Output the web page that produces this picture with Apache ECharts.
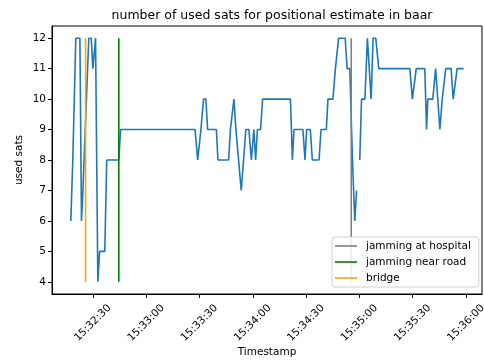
<!DOCTYPE html>
<html>
<head>
<meta charset="utf-8">
<script src="https://cdn.jsdelivr.net/npm/echarts@6/dist/echarts.min.js"></script>
<style>html,body{margin:0;padding:0;background:#fff;}#c{width:484px;height:360px;}</style>
</head>
<body>
<div id="c"></div>
<script>
// seconds since 15:32:00
const times = [17.6,18.7,20.4,22.7,23.6,24.4,24.9,27.7,29.1,30.0,30.8,31.5,32.8,33.8,36.7,37.8,44.6,45.6,
  87.5,89.0,89.8,90.8,91.4,92.3,93.6,94.6,99.5,100.4,106.4,107.4,108.1,109.4,110.5,111.3,113.5,114.0,116.1,117.8,
  119.2,120.6,121.6,122.6,124.4,125.5,141.2,142.3,143.2,148.2,149.4,150.3,152.4,153.5,157.3,158.4,161.4,162.3,
  165.1,166.5,167.4,168.3,172.0,173.1,174.6,176.1,177.4,178.4,179.3,180.2,181.2,183.1,184.5,185.6,186.6,187.7,
  189.2,190.9,208.4,209.8,210.6,212.0,216.8,217.8,218.5,221.3,222.9,223.5,225.3,226.6,227.5,228.6,231.6,232.8,
  233.9,235.0,238.7];
const sats = [6,8,12,12,6,7,7,12,12,11,11,12,4,5,5,8,8,9,
  9,8,8,9,9,10,10,9,9,8,8,9,9,10,9,9,7,7,9,9,
  8,9,8,9,9,10,10,8,9,9,8,9,9,8,8,9,9,10,
  10,11,11,12,12,11,11,8,6,7,null,8,10,10,12,12,10,12,
  12,11,11,10,10,11,11,9,10,10,11,11,9,10,10,11,11,10,
  10,11,11];
const eventNames = ['jamming at hospital','jamming near road','bridge'];
const eventTimes = [175.4, 44.6, 25.9];
const eventColors = ['#808080','#008000','#ffa500'];
const eventRange = [4, 12];
const xTicks = [30,60,90,120,150,180,210,240];
const yTicks = [4,5,6,7,8,9,10,11,12];

function fmt(s){
  const total = 15*3600 + 32*60 + Math.round(s);
  const h = Math.floor(total/3600), m = Math.floor((total%3600)/60), sec = total%60;
  const p = n => String(n).padStart(2,'0');
  return p(h)+':'+p(m)+':'+p(sec);
}

const font = 'DejaVu Sans';
const series = [{
  type:'line', name:'sats', data: times.map((t,i)=>[t, sats[i]===null?'-':sats[i]]),
  showSymbol:false, symbol:'none', lineStyle:{color:'#1f77b4', width:1.6}, itemStyle:{color:'#1f77b4'},
  connectNulls:false, animation:false
}];
eventNames.forEach((n,i)=>{
  series.push({type:'line', name:n, data: eventRange.map(v=>[eventTimes[i], v]),
    showSymbol:false, symbol:'none', lineStyle:{color:eventColors[i], width:1.6}, itemStyle:{color:eventColors[i]}, animation:false});
});

const chart = echarts.init(document.getElementById('c'));
chart.setOption({
  backgroundColor:'#fff',
  animation:false,
  title:{text:'number of used sats for positional estimate in baar', left:267, top:4, textAlign:'center',
    textStyle:{fontFamily:font, fontSize:12.5, fontWeight:'normal', color:'#000'}},
  grid:{left:52, right:2, top:26, bottom:66, show:true, borderColor:'#000', borderWidth:1, backgroundColor:'transparent',
    containLabel:false, outerBoundsMode:'none'},
  legend:{data:eventNames, orient:'vertical', left:332, top:237, padding:[3,8,3,3], itemGap:4,
    itemWidth:22, itemHeight:1.6, icon:'rect',
    backgroundColor:'rgba(255,255,255,0.85)', borderColor:'#d0d0d0', borderWidth:1, borderRadius:3,
    textStyle:{fontFamily:font, fontSize:10.5, color:'#000', lineHeight:12, padding:[0,0,0,4]}},
  xAxis:{type:'value', min:7, max:249, name:'Timestamp', nameLocation:'middle', nameGap:53, nameMoveOverlap:false,
    nameTextStyle:{fontFamily:font, fontSize:10.5, color:'#000'},
    splitLine:{show:false}, axisLine:{show:true, lineStyle:{color:'#000', width:1}},
    axisTick:{show:true, length:4, lineStyle:{color:'#000'}, customValues:xTicks},
    axisLabel:{customValues:xTicks, formatter:v=>fmt(v), rotate:45, align:'center', verticalAlign:'middle', margin:29,
      fontFamily:font, fontSize:10.5, color:'#000'}},
  yAxis:{type:'value', min:3.6, max:12.4, name:'used sats', nameLocation:'middle', nameGap:27, nameMoveOverlap:false,
    nameTextStyle:{fontFamily:font, fontSize:10.5, color:'#000'},
    splitLine:{show:false}, axisLine:{show:true, lineStyle:{color:'#000', width:1}},
    axisTick:{show:true, length:4, lineStyle:{color:'#000'}, customValues:yTicks},
    axisLabel:{customValues:yTicks, margin:6, fontFamily:font, fontSize:10.5, color:'#000'}},
  series:series
});
</script>
</body>
</html>
